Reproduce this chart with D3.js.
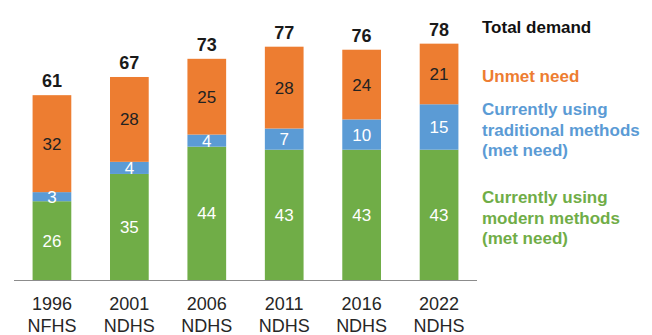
<!DOCTYPE html>
<html>
<head>
<meta charset="utf-8">
<script src="https://cdn.jsdelivr.net/npm/d3@7"></script>
<style>
  body { margin: 0; background: #fff; }
  svg { display: block; font-family: "Liberation Sans", Arial, sans-serif; }
</style>
</head>
<body>
<svg id="chart" width="652" height="335"></svg>
<script>
// data
const years = ['1996', '2001', '2006', '2011', '2016', '2022']
const surveys = ['NFHS', 'NDHS', 'NDHS', 'NDHS', 'NDHS', 'NDHS']
const modern = [26, 35, 44, 43, 43, 43]
const traditional = [3, 4, 4, 7, 10, 15]
const unmet = [32, 28, 25, 28, 24, 21]
const total = [61, 67, 73, 77, 76, 78]

const colors = { modern: '#70ad47', traditional: '#5b9bd5', unmet: '#ed7d31' }

const svg = d3.select('#chart')
const baseY = 280

const x = d3.scaleBand()
  .domain(years)
  .range([14, 477])
  .paddingInner(0.5)
  .paddingOuter(0.24)

const y = d3.scaleLinear()
  .domain([0, 80])
  .range([baseY, baseY - 80 * 3.03])

// build segments; unmet segment runs up to the rounded total
const segs = []
years.forEach((yr, i) => {
  const m = modern[i]
  const t = traditional[i]
  segs.push({ yr, key: 'modern', y0: 0, y1: m, v: m, fill: '#fff' })
  segs.push({ yr, key: 'traditional', y0: m, y1: m + t, v: t, fill: '#fff' })
  segs.push({ yr, key: 'unmet', y0: m + t, y1: total[i], v: unmet[i], fill: '#222' })
})

svg.selectAll('rect.seg')
  .data(segs)
  .join('rect')
  .attr('class', 'seg')
  .attr('x', d => x(d.yr))
  .attr('width', x.bandwidth())
  .attr('y', d => y(d.y1))
  .attr('height', d => y(d.y0) - y(d.y1))
  .attr('fill', d => colors[d.key])

svg.selectAll('text.seg')
  .data(segs)
  .join('text')
  .attr('class', 'seg')
  .attr('x', d => x(d.yr) + x.bandwidth() / 2)
  .attr('y', d => (y(d.y0) + y(d.y1)) / 2)
  .attr('dy', '0.35em')
  .attr('text-anchor', 'middle')
  .attr('font-size', 17)
  .attr('fill', d => d.fill)
  .text(d => d.v)

// totals above bars
svg.selectAll('text.total')
  .data(years)
  .join('text')
  .attr('class', 'total')
  .attr('x', d => x(d) + x.bandwidth() / 2)
  .attr('y', (d, i) => y(total[i]) - 8)
  .attr('text-anchor', 'middle')
  .attr('font-size', 18)
  .attr('font-weight', 'bold')
  .attr('fill', '#1a1a1a')
  .text((d, i) => total[i])

// baseline
svg.append('line')
  .attr('x1', 14).attr('x2', 477)
  .attr('y1', baseY + 0.5).attr('y2', baseY + 0.5)
  .attr('stroke', '#8c8c8c')

// category labels
const xl = svg.selectAll('text.xl')
  .data(years)
  .join('text')
  .attr('class', 'xl')
  .attr('text-anchor', 'middle')
  .attr('font-size', 18)
  .attr('fill', '#262626')
xl.append('tspan')
  .attr('x', d => x(d) + x.bandwidth() / 2)
  .attr('y', 310)
  .text(d => d)
xl.append('tspan')
  .attr('x', d => x(d) + x.bandwidth() / 2)
  .attr('y', 332)
  .text((d, i) => surveys[i])

// legend text on the right
const legend = [
  { lines: ['Total demand'], color: '#111', y: 33 },
  { lines: ['Unmet need'], color: colors.unmet, y: 82 },
  { lines: ['Currently using', 'traditional methods', '(met need)'], color: colors.traditional, y: 115 },
  { lines: ['Currently using', 'modern methods', '(met need)'], color: colors.modern, y: 203 }
]

legend.forEach(l => {
  const t = svg.append('text')
    .attr('font-size', 17)
    .attr('font-weight', 'bold')
    .attr('fill', l.color)
  l.lines.forEach((s, j) => {
    t.append('tspan')
      .attr('x', 482)
      .attr('y', l.y + j * 20.5)
      .text(s)
  })
})
</script>
</body>
</html>
